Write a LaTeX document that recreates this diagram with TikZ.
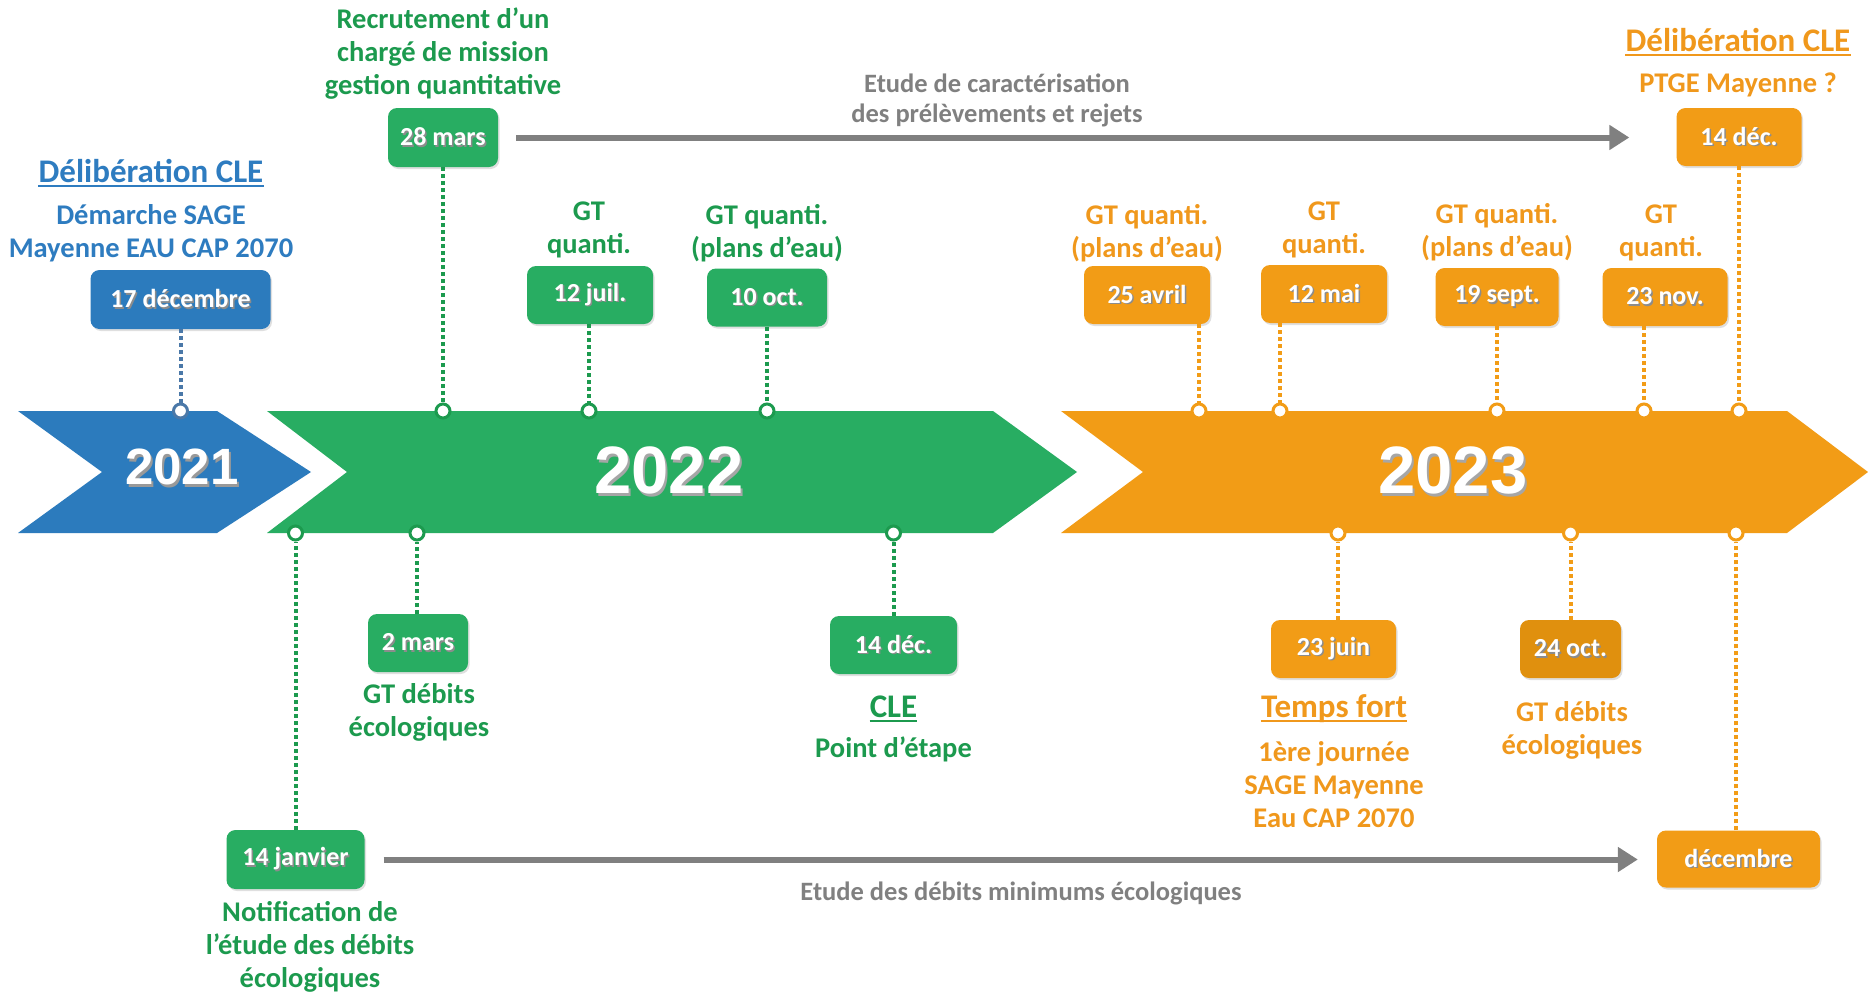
\documentclass[tikz,border=0pt]{standalone}
\usepackage{fontspec}
\setmainfont{Carlito}
\newfontfamily\yearfont{Liberation Sans}
\usetikzlibrary{arrows.meta,shadows}
\definecolor{blueF}{HTML}{2C7BBD}
\definecolor{blueT}{HTML}{2E7CC0}
\definecolor{blueD}{HTML}{4A78A8}
\definecolor{greenF}{HTML}{28AD62}
\definecolor{greenT}{HTML}{1C9A4E}
\definecolor{orangeF}{HTML}{F29C16}
\definecolor{orangeT}{HTML}{F0981C}
\definecolor{orangeD}{HTML}{E0900E}
\definecolor{greyA}{HTML}{808080}
\newcommand\shtxt[2]{\makebox[0pt][l]{\hspace{1.5pt}\raisebox{-1.5pt}{\color{#1}#2}}#2}
\newcommand\yshtxt[2]{\makebox[0pt][l]{\hspace{2pt}\raisebox{-2.5pt}{\color{#1}#2}}#2}
\tikzset{
  datebox/.style={rounded corners=9pt, fill=#1, text=white, inner sep=0pt,
    font=\bfseries\fontsize{26}{30}\selectfont,
    drop shadow={opacity=0.25, shadow xshift=1.5pt, shadow yshift=-2pt}},
  lbl/.style={font=\bfseries\fontsize{28.5}{33}\selectfont, align=center, inner sep=0pt, text=#1},
  hdg/.style={font=\bfseries\fontsize{33}{36}\selectfont, inner sep=0pt, anchor=base, text=#1},
  evdot/.style={circle, draw=#1, fill=white, line width=3pt, minimum size=14pt, inner sep=0pt},
  evline/.style={draw=#1, line width=4pt, dash pattern=on 4pt off 3pt},
  ga/.style={draw=greyA, line width=6pt, -{Triangle[length=20pt,width=24pt]}},
  gtext/.style={font=\bfseries\fontsize{26.5}{29.5}\selectfont, text=greyA, align=center, inner sep=0pt},
  year/.style={text=white, inner sep=0pt, font=\yearfont\bfseries\fontsize{#1}{#1}\selectfont}
}
\begin{document}
\begin{tikzpicture}[x=1pt,y=-1pt]
\useasboundingbox (0,0) rectangle (1868,993);
\fill[white] (0,0) rectangle (1868,993);

% chevrons
\fill[blueF] (18,411) -- (217,411) -- (311,472) -- (217,533) -- (18,533) -- (102,472) -- cycle;
\fill[greenF] (267,411) -- (993,411) -- (1077,472) -- (993,533) -- (267,533) -- (347,472) -- cycle;
\fill[orangeF] (1061,411) -- (1787,411) -- (1868,472) -- (1787,533) -- (1061,533) -- (1143,472) -- cycle;

\node[year=51] (y21) at (182,468.5) {\yshtxt{black!40}{2021}};
\node[year=67] (y22) at (669,472) {\yshtxt{black!35}{2022}};
\node[year=67] (y23) at (1453,472) {\yshtxt{black!35}{2023}};

% circles on the chevrons
\node[evdot=blueD] (c17) at (180.5,411) {};
\node[evdot=greenT] (c28) at (443,411) {};
\node[evdot=greenT] (c12j) at (589,411) {};
\node[evdot=greenT] (c10) at (767,411) {};
\node[evdot=orangeF] (c25) at (1199,411) {};
\node[evdot=orangeF] (c12m) at (1280,411) {};
\node[evdot=orangeF] (c19) at (1497,411) {};
\node[evdot=orangeF] (c23n) at (1644,411) {};
\node[evdot=orangeF] (c14t) at (1739,411) {};
\node[evdot=greenT] (c14j) at (295.5,533) {};
\node[evdot=greenT] (c2m) at (417,533) {};
\node[evdot=greenT] (c14b) at (893.5,533) {};
\node[evdot=orangeF] (c23j) at (1338,533) {};
\node[evdot=orangeF] (c24) at (1570.5,533) {};
\node[evdot=orangeF] (cdec) at (1736,533) {};

% date boxes
\node[datebox=blueF, minimum width=180pt, minimum height=59pt] (b17) at (180.5,299.5) {\shtxt{black!45}{17 décembre}};
\node[datebox=greenF, minimum width=110pt, minimum height=59pt] (b28) at (443,137.5) {\shtxt{black!45}{28 mars}};
\node[datebox=greenF, minimum width=126pt, minimum height=58pt] (b12j) at (590,295) {\shtxt{black!45}{12 juil.}};
\node[datebox=greenF, minimum width=120pt, minimum height=58pt] (b10) at (767,297.5) {\shtxt{black!45}{10 oct.}};
\node[datebox=orangeF, minimum width=126pt, minimum height=58pt] (b25) at (1147,295) {\shtxt{black!45}{25 avril}};
\node[datebox=orangeF, minimum width=126pt, minimum height=58pt] (b12m) at (1324,294) {\shtxt{black!45}{12 mai}};
\node[datebox=orangeF, minimum width=123pt, minimum height=58pt] (b19) at (1497,297) {\shtxt{black!45}{19 sept.}};
\node[datebox=orangeF, minimum width=125pt, minimum height=58pt] (b23n) at (1665,297) {\shtxt{black!45}{23 nov.}};
\node[datebox=orangeF, minimum width=125pt, minimum height=58pt] (b14t) at (1739,137) {\shtxt{black!45}{14 déc.}};
\node[datebox=greenF, minimum width=138pt, minimum height=59pt] (b14j) at (295.5,859.5) {\shtxt{black!45}{14 janvier}};
\node[datebox=greenF, minimum width=100pt, minimum height=58pt] (b2m) at (418,643) {\shtxt{black!45}{2 mars}};
\node[datebox=greenF, minimum width=127pt, minimum height=58pt] (b14b) at (893.5,645) {\shtxt{black!45}{14 déc.}};
\node[datebox=orangeF, minimum width=125pt, minimum height=58pt] (b23j) at (1333.5,649) {\shtxt{black!45}{23 juin}};
\node[datebox=orangeD, minimum width=101pt, minimum height=58pt] (b24) at (1570.5,649) {\shtxt{black!45}{24 oct.}};
\node[datebox=orangeF, minimum width=163pt, minimum height=57pt] (bdec) at (1738.5,859) {\shtxt{black!45}{décembre}};

% dotted stems
\draw[evline=blueD] (b17.south -| c17) -- (c17);
\draw[evline=greenT] (b28) -- (c28);
\draw[evline=greenT] (b12j.south -| c12j) -- (c12j);
\draw[evline=greenT] (b10) -- (c10);
\draw[evline=orangeF] (b25.south -| c25) -- (c25);
\draw[evline=orangeF] (b12m.south -| c12m) -- (c12m);
\draw[evline=orangeF] (b19) -- (c19);
\draw[evline=orangeF] (b23n.south -| c23n) -- (c23n);
\draw[evline=orangeF] (b14t) -- (c14t);
\draw[evline=greenT] (b14j) -- (c14j);
\draw[evline=greenT] (b2m.north -| c2m) -- (c2m);
\draw[evline=greenT] (b14b) -- (c14b);
\draw[evline=orangeF] (b23j.north -| c23j) -- (c23j);
\draw[evline=orangeF] (b24) -- (c24);
\draw[evline=orangeF] (bdec.north -| cdec) -- (cdec);

% grey arrows
\draw[ga, shorten <=18pt, shorten >=47pt] (b28) -- (b28 -| b14t.west);
\draw[ga, shorten <=19pt, shorten >=19pt] (b14j.east) -- (b14j.east -| bdec.west);
\node[gtext] (gt1) at (997,100.5) {Etude de caractérisation\\des prélèvements et rejets};
\node[gtext] (gt2) at (1021,893) {Etude des débits minimums écologiques};

% labels above
\node[hdg=blueT] (h17) at (151,182) {Délibération CLE};
\draw[blueT, line width=2pt] ([yshift=-3.5pt]h17.base west) -- ([yshift=-3.5pt]h17.base east);
\node[lbl=blueT] (l17) at (151,233) {Démarche SAGE\\Mayenne EAU CAP 2070};
\node[lbl=greenT] (l28) at (443,54) {Recrutement d’un\\chargé de mission\\gestion quantitative};
\node[lbl=greenT] (l12j) at (589,229.5) {GT\\quanti.};
\node[lbl=greenT] (l10) at (767,233) {GT quanti.\\(plans d’eau)};
\node[lbl=orangeT] (l25) at (1147,233.5) {GT quanti.\\(plans d’eau)};
\node[lbl=orangeT] (l12m) at (1324,230) {GT\\quanti.};
\node[lbl=orangeT] (l19) at (1497,232.5) {GT quanti.\\(plans d’eau)};
\node[lbl=orangeT] (l23n) at (1661,232.5) {GT\\quanti.};
\node[hdg=orangeT] (h14t) at (1738,51) {Délibération CLE};
\draw[orangeT, line width=2pt] ([yshift=-3.5pt]h14t.base west) -- ([yshift=-3.5pt]h14t.base east);
\node[lbl=orangeT] (l14t) at (1738,85) {PTGE Mayenne ?};

% labels below
\node[lbl=greenT] (l14j) at (310,947) {Notification de\\l’étude des débits\\écologiques};
\node[lbl=greenT] (l2m) at (419,712.5) {GT débits\\écologiques};
\node[hdg=greenT] (h14b) at (893.5,717) {CLE};
\draw[greenT, line width=2pt] ([yshift=-3.5pt]h14b.base west) -- ([yshift=-3.5pt]h14b.base east);
\node[lbl=greenT] (l14b) at (893.5,749.5) {Point d’étape};
\node[hdg=orangeT] (h23j) at (1334,717) {Temps fort};
\draw[orangeT, line width=2pt] ([yshift=-3.5pt]h23j.base west) -- ([yshift=-3.5pt]h23j.base east);
\node[lbl=orangeT] (l23j) at (1334,784.5) {1ère journée\\SAGE Mayenne\\Eau CAP 2070};
\node[lbl=orangeT] (l24) at (1572,730.5) {GT débits\\écologiques};
\end{tikzpicture}
\end{document}
